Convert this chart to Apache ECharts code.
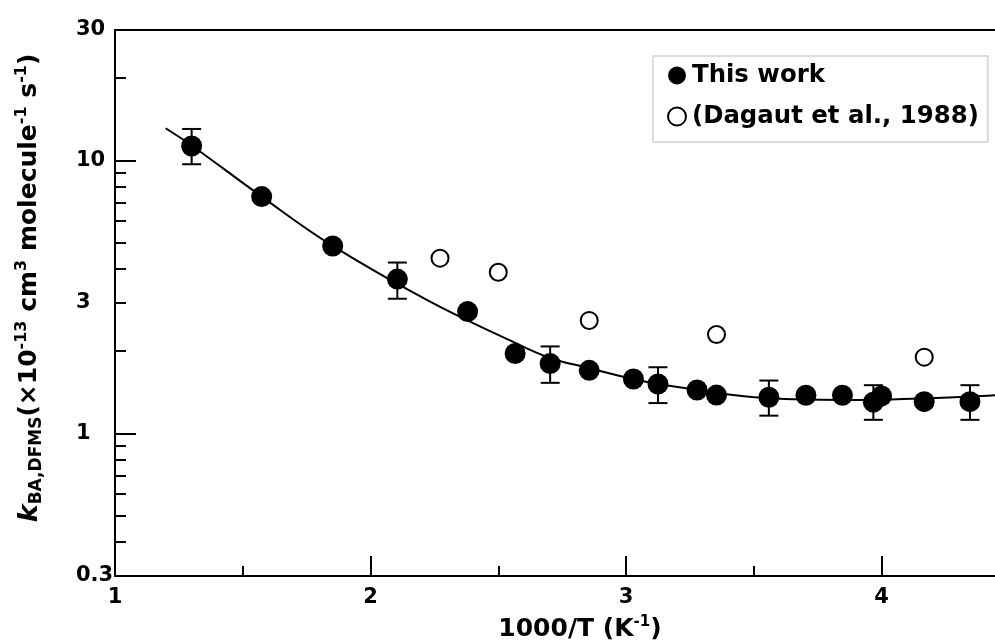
<!DOCTYPE html>
<html>
<head>
<meta charset="utf-8">
<script src="https://cdn.jsdelivr.net/npm/echarts@6/dist/echarts.min.js"></script>
<style>
html, body { margin: 0; padding: 0; background: #fff; }
#main { width: 995px; height: 644px; }
</style>
</head>
<body>
<div id="main"></div>
<script>
// this work (filled circles)
var workX = [1.300, 1.574, 1.852, 2.105, 2.380, 2.566, 2.703, 2.856, 3.029, 3.125, 3.278, 3.354, 3.559, 3.704, 3.847, 3.968, 4.000, 4.167, 4.346]
var workK = [11.28, 7.36, 4.85, 3.67, 2.79, 1.96, 1.80, 1.70, 1.58, 1.515, 1.44, 1.38, 1.355, 1.378, 1.378, 1.30, 1.37, 1.305, 1.305]

// error bars of this work
var errX = [1.300, 2.105, 2.703, 3.125, 3.559, 3.968, 4.346]
var errLow = [9.67, 3.11, 1.53, 1.29, 1.16, 1.12, 1.12]
var errHigh = [13.02, 4.22, 2.08, 1.745, 1.56, 1.50, 1.50]

// Dagaut et al., 1988 (open circles)
var dagautX = [2.272, 2.500, 2.856, 3.354, 4.167]
var dagautK = [4.38, 3.89, 2.59, 2.30, 1.90]

// fitted curve
var fitX = [1.198, 1.300, 1.574, 1.852, 2.233, 2.546, 2.703, 2.855, 3.027, 3.125, 3.278, 3.356, 3.560, 3.845, 4.033, 4.346, 4.444]
var fitK = [13.10, 11.33, 7.36, 4.855, 3.034, 2.189, 1.887, 1.733, 1.580, 1.515, 1.441, 1.405, 1.343, 1.324, 1.330, 1.362, 1.377]

// axes
var xTicks = [1, 2, 3, 4]
var xMinorTicks = [1.5, 2.5, 3.5]
var yLabels = [0.3, 1, 3, 10, 30]
var yMajorTicks = [1, 10]
var yMinorTicks = [0.4, 0.5, 0.6, 0.7, 0.8, 0.9, 2, 3, 4, 5, 6, 7, 8, 9, 20]

var FONT = 'DejaVu Sans'

function lg (v) { return Math.log10(v) }

function pairs (xs, ks) {
    var out = []
    for (var i = 0; i < xs.length; i++) {
        out.push([xs[i], lg(ks[i])])
    }
    return out
}

var errData = []
for (var i = 0; i < errX.length; i++) {
    errData.push([errX[i], lg(errLow[i]), lg(errHigh[i])])
}

function renderErr (params, api) {
    var x = api.value(0)
    var lo = api.coord([x, api.value(1)])
    var hi = api.coord([x, api.value(2)])
    var w = 9.5
    var st = { stroke: '#000', lineWidth: 2 }
    return {
        type: 'group',
        children: [
            { type: 'line', shape: { x1: lo[0], y1: lo[1], x2: hi[0], y2: hi[1] }, style: st },
            { type: 'line', shape: { x1: lo[0] - w, y1: lo[1], x2: lo[0] + w, y2: lo[1] }, style: st },
            { type: 'line', shape: { x1: hi[0] - w, y1: hi[1], x2: hi[0] + w, y2: hi[1] }, style: st }
        ]
    }
}

var yMin = lg(0.3)
var yMax = lg(30)
var xMin = 1
var xMax = 4.444

var lineSt = { color: '#000', width: 2 }

var myChart = echarts.init(document.getElementById('main'))
var option = {
    animation: false,
    backgroundColor: '#fff',
    grid: { left: 115, right: 0, top: 30, bottom: 68, outerBoundsMode: 'none' },
    legend: {
        left: 653,
        top: 56,
        orient: 'vertical',
        itemWidth: 18,
        itemHeight: 18,
        itemGap: 16,
        padding: [7, 9, 13, 14],
        borderColor: '#dcdcdc',
        borderWidth: 2,
        data: ['This work', '(Dagaut et al., 1988)'],
        textStyle: {
            color: '#000',
            fontFamily: FONT,
            fontWeight: 'bold',
            fontSize: 24.4,
            lineHeight: 25,
            padding: [0, 0, 0, 1]
        }
    },
    xAxis: [{
        type: 'value',
        min: xMin,
        max: xMax,
        position: 'bottom',
        splitLine: { show: false },
        axisLine: { onZero: false, lineStyle: lineSt },
        axisTick: { inside: true, length: 20, lineStyle: lineSt, customValues: xTicks },
        axisLabel: {
            customValues: xTicks,
            margin: 11,
            color: '#000',
            fontFamily: FONT,
            fontWeight: 'bold',
            fontSize: 21
        },
        name: '{m|1000/T (K}{sup|-1}{m|)}',
        nameLocation: 'middle',
        nameGap: 39,
        nameTextStyle: {
            padding: [0, 0, 0, 50],
            rich: {
                m: { fontFamily: FONT, fontWeight: 'bold', fontSize: 25, color: '#000', lineHeight: 28 },
                sup: { fontFamily: FONT, fontWeight: 'bold', fontSize: 15, color: '#000', lineHeight: 15, verticalAlign: 'top' }
            }
        }
    }, {
        type: 'value',
        min: xMin,
        max: xMax,
        position: 'bottom',
        splitLine: { show: false },
        axisLine: { show: false, onZero: false },
        axisTick: { inside: true, length: 10, lineStyle: lineSt, customValues: xMinorTicks },
        axisLabel: { show: false }
    }, {
        type: 'value',
        min: xMin,
        max: xMax,
        position: 'top',
        splitLine: { show: false },
        axisLine: { onZero: false, lineStyle: lineSt },
        axisTick: { show: false },
        axisLabel: { show: false }
    }],
    yAxis: [{
        type: 'value',
        min: yMin,
        max: yMax,
        position: 'left',
        splitLine: { show: false },
        axisLine: { onZero: false, lineStyle: lineSt },
        axisTick: { inside: true, length: 21, lineStyle: lineSt, customValues: yMajorTicks.map(lg) },
        axisLabel: {
            customValues: yLabels.map(lg),
            formatter: function (v) { return String(Number(Math.pow(10, v).toPrecision(2))) },
            align: 'left',
            margin: 39,
            color: '#000',
            fontFamily: FONT,
            fontWeight: 'bold',
            fontSize: 21
        },
        name: '{k|k}{sub|BA,DFMS}{m|(×10}{sup|-13}{m| cm}{sup|3}{m| molecule}{sup|-1}{m| s}{sup|-1}{m|)}',
        nameLocation: 'middle',
        nameGap: 70,
        nameTextStyle: {
            padding: [0, 0, 0, 30],
            rich: {
                k: { fontFamily: FONT, fontWeight: 'bold', fontStyle: 'italic', fontSize: 27, color: '#000', lineHeight: 31 },
                m: { fontFamily: FONT, fontWeight: 'bold', fontSize: 25, color: '#000', lineHeight: 31 },
                sub: { fontFamily: FONT, fontWeight: 'bold', fontSize: 17, color: '#000', lineHeight: 19, verticalAlign: 'bottom' },
                sup: { fontFamily: FONT, fontWeight: 'bold', fontSize: 16, color: '#000', lineHeight: 19, verticalAlign: 'top' }
            }
        }
    }, {
        type: 'value',
        min: yMin,
        max: yMax,
        position: 'left',
        splitLine: { show: false },
        axisLine: { show: false, onZero: false },
        axisTick: { inside: true, length: 11, lineStyle: lineSt, customValues: yMinorTicks.map(lg) },
        axisLabel: { show: false }
    }],
    series: [{
        name: 'fit',
        type: 'line',
        data: pairs(fitX, fitK),
        smooth: 0.4,
        symbol: 'none',
        lineStyle: lineSt,
        z: 1
    }, {
        name: 'err',
        type: 'custom',
        data: errData,
        encode: { x: 0, y: [1, 2] },
        renderItem: renderErr,
        z: 2
    }, {
        name: 'This work',
        type: 'scatter',
        data: pairs(workX, workK),
        symbol: 'circle',
        symbolSize: 21,
        itemStyle: { color: '#000', opacity: 1 },
        z: 3
    }, {
        name: '(Dagaut et al., 1988)',
        type: 'scatter',
        data: pairs(dagautX, dagautK),
        symbol: 'circle',
        symbolSize: 17,
        itemStyle: { color: '#fff', borderColor: '#000', borderWidth: 2, opacity: 1 },
        z: 3
    }]
}
myChart.setOption(option)
</script>
</body>
</html>
